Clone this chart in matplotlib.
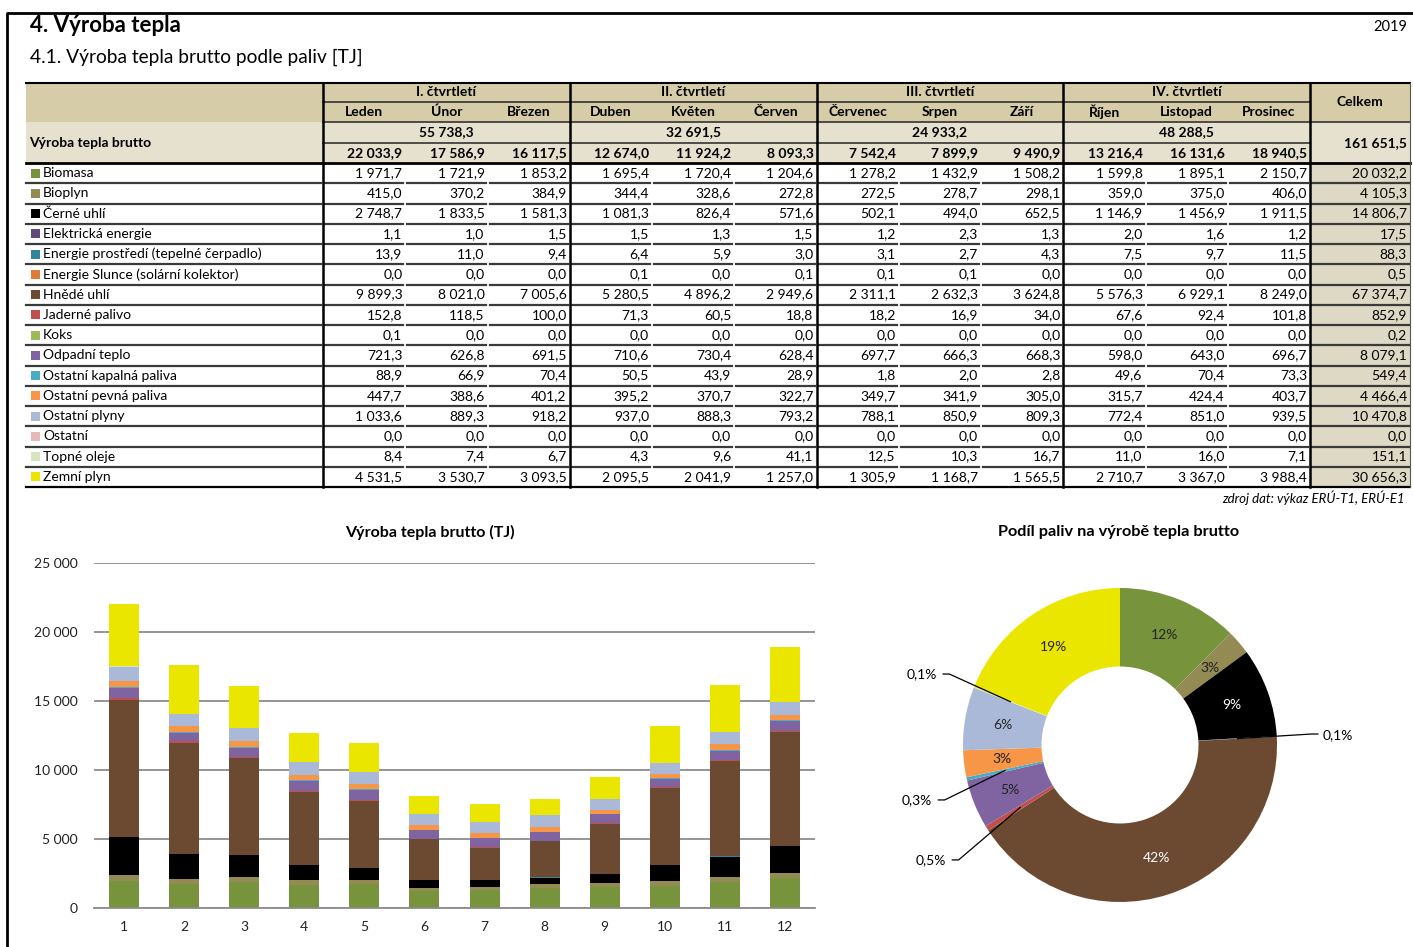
"""Výroba tepla brutto podle paliv 2019: table, stacked bars and donut."""

import numpy as np
import matplotlib.pyplot as plt
from matplotlib.patches import Rectangle
from matplotlib.ticker import FuncFormatter

plt.rcParams['font.family'] = ['Lato', 'DejaVu Sans']

# ---- data -------------------------------------------------------------
quarters = ['I. čtvrtletí', 'II. čtvrtletí', 'III. čtvrtletí', 'IV. čtvrtletí']
months = ['Leden', 'Únor', 'Březen', 'Duben', 'Květen', 'Červen',
          'Červenec', 'Srpen', 'Září', 'Říjen', 'Listopad', 'Prosinec']
month_nums = list(range(1, 13))

fuels = ['Biomasa', 'Bioplyn', 'Černé uhlí', 'Elektrická energie',
         'Energie prostředí (tepelné čerpadlo)',
         'Energie Slunce (solární kolektor)', 'Hnědé uhlí', 'Jaderné palivo',
         'Koks', 'Odpadní teplo', 'Ostatní kapalná paliva',
         'Ostatní pevná paliva', 'Ostatní plyny', 'Ostatní', 'Topné oleje',
         'Zemní plyn']
colors = ['#77933c', '#948a54', '#000000', '#604a7b', '#31859c', '#e07b39',
          '#6b4a31', '#c0504d', '#9bbb59', '#8064a2', '#4bacc6', '#f79646',
          '#abb9d9', '#e6b9b8', '#d7e4bd', '#ebe600']

biomasa = [1971.7, 1721.9, 1853.2, 1695.4, 1720.4, 1204.6, 1278.2, 1432.9, 1508.2, 1599.8, 1895.1, 2150.7]
bioplyn = [415.0, 370.2, 384.9, 344.4, 328.6, 272.8, 272.5, 278.7, 298.1, 359.0, 375.0, 406.0]
cerne_uhli = [2748.7, 1833.5, 1581.3, 1081.3, 826.4, 571.6, 502.1, 494.0, 652.5, 1146.9, 1456.9, 1911.5]
elektricka = [1.1, 1.0, 1.5, 1.5, 1.3, 1.5, 1.2, 2.3, 1.3, 2.0, 1.6, 1.2]
prostredi = [13.9, 11.0, 9.4, 6.4, 5.9, 3.0, 3.1, 2.7, 4.3, 7.5, 9.7, 11.5]
slunce = [0.0, 0.0, 0.0, 0.1, 0.0, 0.1, 0.1, 0.1, 0.0, 0.0, 0.0, 0.0]
hnede_uhli = [9899.3, 8021.0, 7005.6, 5280.5, 4896.2, 2949.6, 2311.1, 2632.3, 3624.8, 5576.3, 6929.1, 8249.0]
jaderne = [152.8, 118.5, 100.0, 71.3, 60.5, 18.8, 18.2, 16.9, 34.0, 67.6, 92.4, 101.8]
koks = [0.1, 0.0, 0.0, 0.0, 0.0, 0.0, 0.0, 0.0, 0.0, 0.0, 0.0, 0.0]
odpadni = [721.3, 626.8, 691.5, 710.6, 730.4, 628.4, 697.7, 666.3, 668.3, 598.0, 643.0, 696.7]
kapalna = [88.9, 66.9, 70.4, 50.5, 43.9, 28.9, 1.8, 2.0, 2.8, 49.6, 70.4, 73.3]
pevna = [447.7, 388.6, 401.2, 395.2, 370.7, 322.7, 349.7, 341.9, 305.0, 315.7, 424.4, 403.7]
plyny = [1033.6, 889.3, 918.2, 937.0, 888.3, 793.2, 788.1, 850.9, 809.3, 772.4, 851.0, 939.5]
ostatni = [0.0] * 12
topne_oleje = [8.4, 7.4, 6.7, 4.3, 9.6, 41.1, 12.5, 10.3, 16.7, 11.0, 16.0, 7.1]
zemni_plyn = [4531.5, 3530.7, 3093.5, 2095.5, 2041.9, 1257.0, 1305.9, 1168.7, 1565.5, 2710.7, 3367.0, 3988.4]

series = [biomasa, bioplyn, cerne_uhli, elektricka, prostredi, slunce,
          hnede_uhli, jaderne, koks, odpadni, kapalna, pevna, plyny, ostatni,
          topne_oleje, zemni_plyn]

fuel_totals = [20032.2, 4105.3, 14806.7, 17.5, 88.3, 0.5, 67374.7, 852.9, 0.2,
               8079.1, 549.4, 4466.4, 10470.8, 0.0, 151.1, 30656.3]
month_totals = [22033.9, 17586.9, 16117.5, 12674.0, 11924.2, 8093.3,
                7542.4, 7899.9, 9490.9, 13216.4, 16131.6, 18940.5]
quarter_totals = [55738.3, 32691.5, 24933.2, 48288.5]
grand_total = 161651.5

# donut: which slices get a label inside and which get a leader line
inside_labels = [0, 1, 2, 6, 9, 11, 12, 15]
outside_labels = {4: (1.29, 0.06), 7: (-1.108, -0.732),
                  10: (-1.197, -0.35), 14: (-1.167, 0.452)}


def fmt(v):
    return f'{v:,.1f}'.replace(',', ' ').replace('.', ',')


W, H = 1413, 947
fig = plt.figure(figsize=(W / 100, H / 100), dpi=100)

# ---- page + table (pixel coordinates) -------------------------------
bg = fig.add_axes([0, 0, 1, 1])
bg.set_xlim(0, W)
bg.set_ylim(H, 0)
bg.axis('off')

bg.plot([7, 7, W], [H, 13, 13], color='black', lw=2)
bg.text(30, 25, '4. Výroba tepla', fontsize=16, fontweight='bold', va='center')
bg.text(30, 57, '4.1. Výroba tepla brutto podle paliv [TJ]', fontsize=13.8, va='center')
bg.text(1407, 27, '2019', fontsize=10.5, ha='right', va='center')

dark, light, tot_bg = '#d6cca8', '#e6e1cf', '#ddd9c5'
xl, xd, xt, xe = 26, 323, 1310, 1410
step = (xt - xd) / 12
rh = 20.25
ry = [163 + rh * i for i in range(17)]

bg.add_patch(Rectangle((xl, 83), xe - xl, 39, color=dark, lw=0))
bg.add_patch(Rectangle((xl, 122), xe - xl, 41, color=light, lw=0))
bg.add_patch(Rectangle((xt, 163), xe - xt, ry[-1] - 163, color=tot_bg, lw=0))

bg.plot([xl, xe], [83, 83], color='black', lw=1.5)
bg.plot([xd, xt], [102, 102], color='#333333', lw=1.2)
bg.plot([xd, xe], [122, 122], color='#333333', lw=1.2)
bg.plot([xd, xt], [143, 143], color='#333333', lw=1.2)
bg.plot([xl, xe], [163, 163], color='black', lw=2)
for y in ry[1:-1]:
    bg.plot([xl, xd - 2], [y, y], color='#3a3a3a', lw=1.6)
    for j in range(12):
        bg.plot([xd + j * step + 2, xd + (j + 1) * step - 2], [y, y],
                color='#3a3a3a', lw=1.6)
    bg.plot([xt + 2, xe - 1], [y, y], color='#3a3a3a', lw=1.6)
bg.plot([xl, xe], [ry[-1], ry[-1]], color='black', lw=1.6)
for q in range(5):
    x = xd + q * 3 * step
    bg.plot([x, x], [83, ry[-1]], color='black', lw=1.8)
bg.plot([xe, xe], [83, ry[-1]], color='#555555', lw=0.8)

bold = dict(fontsize=10, fontweight='bold', va='center')
for q, name in enumerate(quarters):
    cx = xd + (q * 3 + 1.5) * step
    bg.text(cx, 92, name, ha='center', **bold)
    bg.text(cx, 132.5, fmt(quarter_totals[q]), ha='center', **bold)
for j, name in enumerate(months):
    bg.text(xd + (j + 0.5) * step, 112, name, ha='center', **bold)
    bg.text(xd + (j + 1) * step - 3, 153, fmt(month_totals[j]), ha='right', **bold)
bg.text((xt + xe) / 2, 102, 'Celkem', ha='center', **bold)
bg.text(xe - 3, 143, fmt(grand_total), ha='right', **bold)
bg.text(29, 143, 'Výroba tepla brutto', ha='left', **bold)

for i, (name, vals) in enumerate(zip(fuels, series)):
    yc = ry[i] + rh / 2
    bg.add_patch(Rectangle((31, yc - 4.5), 9, 9, color=colors[i], lw=0))
    bg.text(43, yc, name, fontsize=10, va='center')
    for j, v in enumerate(vals):
        bg.text(xd + (j + 1) * step - 3, yc, fmt(v), fontsize=10, ha='right', va='center')
    bg.text(xe - 3, yc, fmt(fuel_totals[i]), fontsize=10, ha='right', va='center')

bg.text(1405, 498, 'zdroj dat: výkaz ERÚ-T1, ERÚ-E1', fontsize=9.5,
        style='italic', ha='right', va='center')

# ---- stacked bar chart ----------------------------------------------
ax = fig.add_axes([94 / W, 39 / H, (815 - 94) / W, (908 - 563) / H])
bottom = np.zeros(12)
for vals, c in zip(series, colors):
    ax.bar(month_nums, vals, bottom=bottom, width=0.5, color=c, lw=0)
    bottom += np.array(vals)
ax.set_xlim(0.5, 12.5)
ax.set_ylim(0, 25000)
ax.set_yticks(range(0, 25001, 5000))
ax.set_xticks(month_nums)
ax.yaxis.set_major_formatter(FuncFormatter(lambda v, p: f'{v:,.0f}'.replace(',', ' ')))
ax.grid(axis='y', color='#8c8c8c', lw=1.3)
ax.set_axisbelow(True)
for s in ['top', 'right', 'left']:
    ax.spines[s].set_visible(False)
ax.spines['bottom'].set_color('#8c8c8c')
ax.spines['bottom'].set_linewidth(1.3)
ax.tick_params(length=0, labelsize=10, colors='#222222')
ax.tick_params(axis='y', pad=12)
ax.tick_params(axis='x', pad=9)
fig.text(430 / W, 1 - 532 / H, 'Výroba tepla brutto (TJ)', fontsize=11.5,
         fontweight='bold', ha='center', va='center')

# ---- donut chart -----------------------------------------------------
R = 157
pc = fig.add_axes([(1120 - R) / W, (H - 745 - R) / H, 2 * R / W, 2 * R / H])
wedges, _ = pc.pie(fuel_totals, colors=colors, startangle=90, counterclock=False,
                   radius=1, wedgeprops=dict(width=0.5, lw=0))
pc.set_xlim(-1, 1)
pc.set_ylim(-1, 1)
pc.axis('off')
shares = np.array(fuel_totals) / grand_total * 100
for i in inside_labels:
    w = wedges[i]
    a = np.deg2rad((w.theta1 + w.theta2) / 2)
    tc = 'white' if colors[i] in ('#000000', '#6b4a31') else '#222222'
    pc.text(0.755 * np.cos(a), 0.755 * np.sin(a), f'{shares[i]:.0f}%',
            ha='center', va='center', fontsize=10, color=tc)
for i, (tx, ty) in outside_labels.items():
    w = wedges[i]
    a = np.deg2rad((w.theta1 + w.theta2) / 2)
    px, py = 0.75 * np.cos(a), 0.75 * np.sin(a)
    lab = f'{shares[i]:.1f}'.replace('.', ',') + '%'
    if tx > 0:
        pc.text(tx, ty, lab, ha='left', va='center', fontsize=10, clip_on=False)
        sx = tx - 0.03
        pc.plot([sx, sx - 0.04, px], [ty + 0.01, ty + 0.01, py], color='black',
                lw=0.9, clip_on=False)
    else:
        pc.text(tx, ty, lab, ha='right', va='center', fontsize=10, clip_on=False)
        sx = tx + 0.04
        pc.plot([sx, sx + 0.04, px], [ty, ty, py], color='black', lw=0.9,
                clip_on=False)
fig.text(1119 / W, 1 - 532 / H, 'Podíl paliv na výrobě tepla brutto',
         fontsize=11.7, fontweight='bold', ha='center', va='center')

fig.savefig('out.png', dpi=100)
